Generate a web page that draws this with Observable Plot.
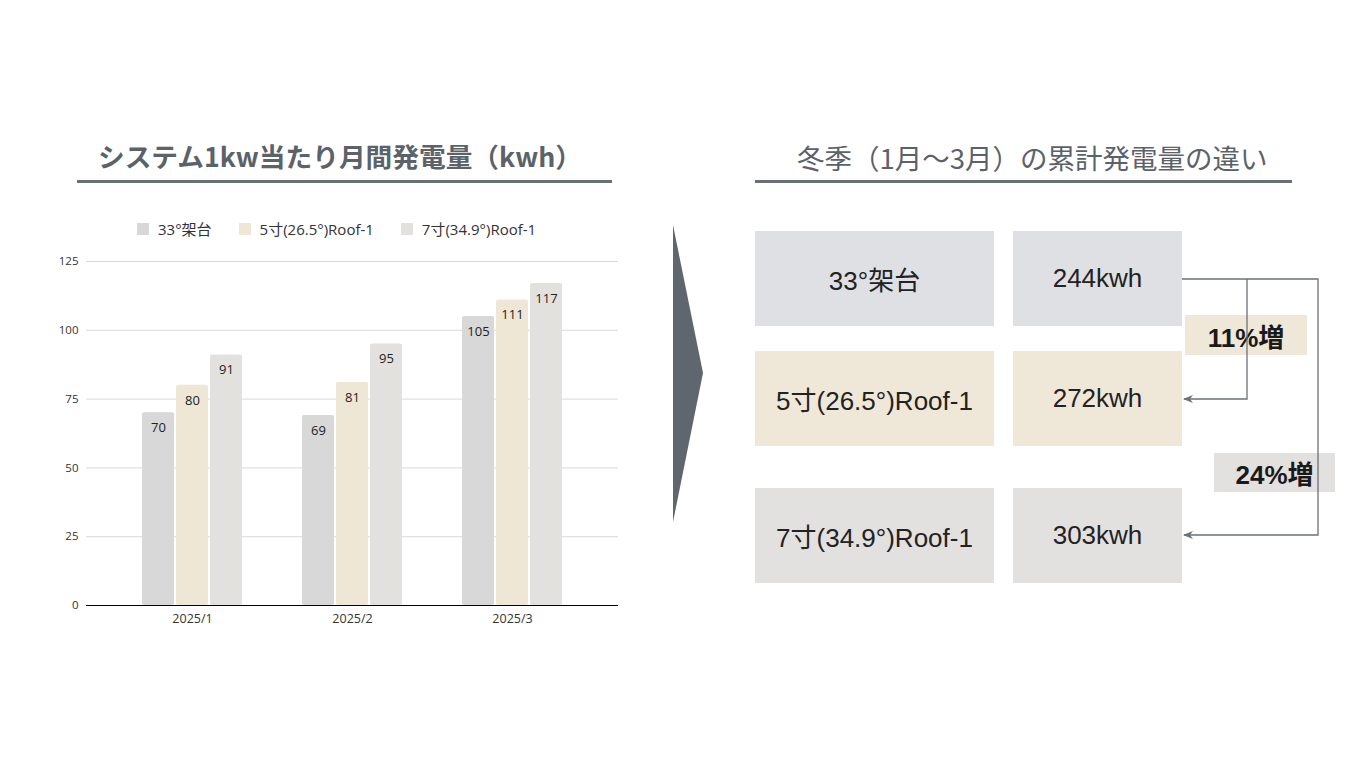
<!DOCTYPE html>
<html><head><meta charset="utf-8">
<script src="https://cdn.jsdelivr.net/npm/d3@7"></script>
<script src="https://cdn.jsdelivr.net/npm/@observablehq/plot@0.6"></script>
<style>
body{margin:0;background:#fff;width:1366px;height:768px;position:relative;overflow:hidden;font-family:"Noto Sans CJK JP","Noto Sans",sans-serif;}
.abs{position:absolute}
.title{position:absolute;color:#5c6269;white-space:nowrap;line-height:1;}
.rule{position:absolute;height:3px;background:#6b7076;}
.legend{position:absolute;left:137px;top:218px;display:flex;gap:27px;font-family:"Open Sans","Noto Sans CJK JP",sans-serif;font-size:15px;color:#333;align-items:center;}
.legend .item{display:flex;align-items:center;}
.legend .sw{width:12px;height:12px;margin-right:9px;}
.box{position:absolute;display:flex;align-items:center;justify-content:center;font-family:"Liberation Sans","Noto Sans CJK JP",sans-serif;font-size:26px;color:#222;}
.tag{position:absolute;display:flex;align-items:center;justify-content:center;font-family:"Liberation Sans","Noto Sans CJK JP",sans-serif;font-weight:bold;font-size:26px;color:#1a1a1a;}
</style></head><body>
<div class="title" style="left:98px;top:143px;font-size:26.7px;font-weight:bold;">システム1kw当たり月間発電量（kwh）</div>
<div class="rule" style="left:77px;top:180px;width:535px;"></div>
<div class="title" style="left:797px;top:144px;font-size:27.5px;">冬季（1月〜3月）の累計発電量の違い</div>
<div class="rule" style="left:755px;top:180px;width:537px;"></div>
<div class="legend" id="legend"></div>
<div id="chart" class="abs" style="left:0;top:250px;"></div>
<div id="panel"></div>
<script>
const months = ["2025/1", "2025/2", "2025/3"];
const series = ["33°架台", "5寸(26.5°)Roof-1", "7寸(34.9°)Roof-1"];
const values33 = [70, 69, 105];
const values5 = [80, 81, 111];
const values7 = [91, 95, 117];
const yTicks = [0, 25, 50, 75, 100, 125];
const barColors = ["#d8d8d8", "#eee7d6", "#e2e1de"];
const panelColors = ["#dfe0e3", "#efe8d8", "#e2e1df"];

const allValues = [values33, values5, values7];
const data = series.flatMap((s, i) => months.map((m, j) => ({month: m, series: s, idx: i, value: allValues[i][j]})));

// legend
const lg = document.getElementById("legend");
series.forEach((s, i) => {
  const it = document.createElement("div"); it.className = "item";
  it.innerHTML = `<div class="sw" style="background:${barColors[i]}"></div><span>${s}</span>`;
  lg.appendChild(it);
});

const chart = Plot.plot({
  width: 640, height: 380,
  marginLeft: 86, marginRight: 22, marginTop: 11, marginBottom: 25,
  style: {fontFamily: '"Open Sans","Noto Sans CJK JP",sans-serif', fontSize: "11px", color: "#333", background: "transparent", overflow: "visible"},
  x: {domain: months, paddingInner: 0.375, paddingOuter: 0.35, label: null},
  y: {domain: [0, 125], label: null},
  color: {domain: series, range: barColors},
  marks: [
    Plot.ruleY(yTicks.filter(t => t > 0), {stroke: "#d9d9d9", strokeWidth: 1}),
    ...series.map((s, i) => Plot.barY(data.filter(d => d.idx === i), {x: "month", y: "value", fill: "series", insetLeft: i * 34, insetRight: (2 - i) * 34, rx: 2})),
    ...series.map((s, i) => Plot.text(data.filter(d => d.idx === i), {x: "month", y: "value", text: d => String(d.value), dx: (i - 1) * 34, dy: 15, fontSize: 13, fill: "#222"})),
    Plot.ruleY([0], {stroke: "#000", strokeWidth: 1.2}),
    Plot.axisX({tickSize: 0, tickPadding: 9, fontSize: 12.5, label: null}),
    Plot.axisY(yTicks, {tickSize: 0, tickPadding: 8, fontSize: 11.5, label: null})
  ]
});
document.getElementById("chart").appendChild(chart);

// right panel
const totals = allValues.map(v => d3.sum(v));
const rowsTop = [231, 351, 488];
const boxH = 95;
const panel = document.getElementById("panel");
series.forEach((s, i) => {
  panel.insertAdjacentHTML("beforeend",
    `<div class="box" style="left:755px;top:${rowsTop[i]}px;width:239px;height:${boxH}px;background:${panelColors[i]}">${s}</div>` +
    `<div class="box" style="left:1013px;top:${rowsTop[i]}px;width:169px;height:${boxH}px;background:${panelColors[i]}">${totals[i]}kwh</div>`);
});

// connectors + chevron
const svg = d3.select("body").append("svg").attr("class", "abs")
  .style("left", 0).style("top", 0).attr("width", 1366).attr("height", 768).style("pointer-events", "none");
svg.append("defs").append("marker").attr("id", "ah").attr("viewBox", "0 0 10 10")
  .attr("refX", 9).attr("refY", 5).attr("markerWidth", 10).attr("markerHeight", 10).attr("markerUnits", "userSpaceOnUse").attr("orient", "auto")
  .append("path").attr("d", "M0,1 L10,5 L0,9 L3,5 Z").attr("fill", "#6b7178");
svg.append("polygon").attr("points", "673,225 703,373 673,522").attr("fill", "#5f666d");
const lc = "#6b7178";
const srcY = rowsTop[0] + 48;
const y2 = rowsTop[1] + 48, y3 = rowsTop[2] + 47;
svg.append("path").attr("d", `M1182,${srcY} H1318 V${y3} H1184`).attr("fill", "none").attr("stroke", lc).attr("stroke-width", 1.3).attr("marker-end", "url(#ah)");
svg.append("path").attr("d", `M1247,${srcY} V${y2} H1184`).attr("fill", "none").attr("stroke", lc).attr("stroke-width", 1.3).attr("marker-end", "url(#ah)");

const pct = [Math.round((totals[1] / totals[0] - 1) * 100), Math.round((totals[2] / totals[0] - 1) * 100)];
panel.insertAdjacentHTML("beforeend",
  `<div class="tag" style="left:1185px;top:315px;width:122px;height:40px;background:${panelColors[1]}">${pct[0]}%増</div>` +
  `<div class="tag" style="left:1214px;top:453px;width:121px;height:39px;background:${panelColors[2]}">${pct[1]}%増</div>`);
</script>
</body></html>
